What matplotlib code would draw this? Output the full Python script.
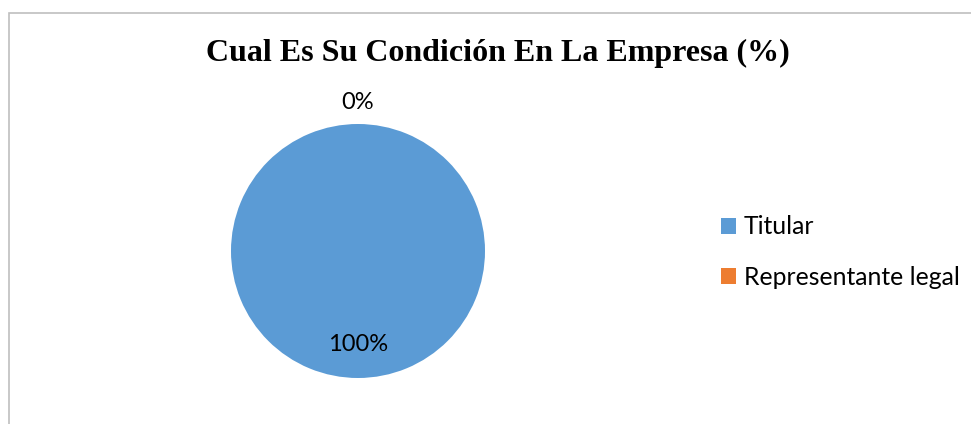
import matplotlib
matplotlib.use("Agg")
import matplotlib.pyplot as plt
import numpy as np
from matplotlib.patches import Rectangle, Patch

W, H = 971, 424

categories = ["Titular", "Representante legal"]
values = [100, 0]
colors = ["#5B9BD5", "#ED7D31"]
title = "Cual Es Su Condición En La Empresa (%)"

fig = plt.figure(figsize=(W / 100, H / 100), dpi=100)

# chart frame (only left and top edges visible in the crop)
fig.patches.append(Rectangle((9 / W, -0.1), 1.2, (H - 13) / H + 0.1,
                             transform=fig.transFigure, fill=False,
                             edgecolor="#BFBFBF", linewidth=1.2))

cx, cy, r = 358, 251, 127
ax = fig.add_axes([(cx - r) / W, (H - cy - r) / H, 2 * r / W, 2 * r / H])
wedges, _ = ax.pie(values, colors=colors, startangle=90, counterclock=False,
                   radius=1, wedgeprops=dict(linewidth=0))
ax.set_xlim(-1, 1)
ax.set_ylim(-1, 1)
ax.set_aspect("equal")
ax.axis("off")

total = sum(values)
for w, v in zip(wedges, values):
    mid = np.deg2rad((w.theta1 + w.theta2) / 2)
    d = 0.74 if v > 0 else 1.17
    ax.text(d * np.cos(mid), d * np.sin(mid), f"{v / total * 100:.0f}%",
            ha="center", va="center", fontsize=17, family="Lato",
            clip_on=False)

fig.text(498 / W, 1 - 53 / H, title, ha="center", va="center",
         fontsize=23, fontweight="bold", family="Liberation Serif")

handles = [Patch(facecolor=c, edgecolor="none") for c in colors]
fig.legend(handles, categories, loc="center left",
           bbox_to_anchor=(699 / W, 1 - 252 / H), frameon=False,
           prop={"family": "Lato", "size": 17.8},
           handlelength=0.6, handleheight=0.6, handletextpad=0.3,
           labelspacing=1.1)

fig.savefig("out.png", dpi=100)
